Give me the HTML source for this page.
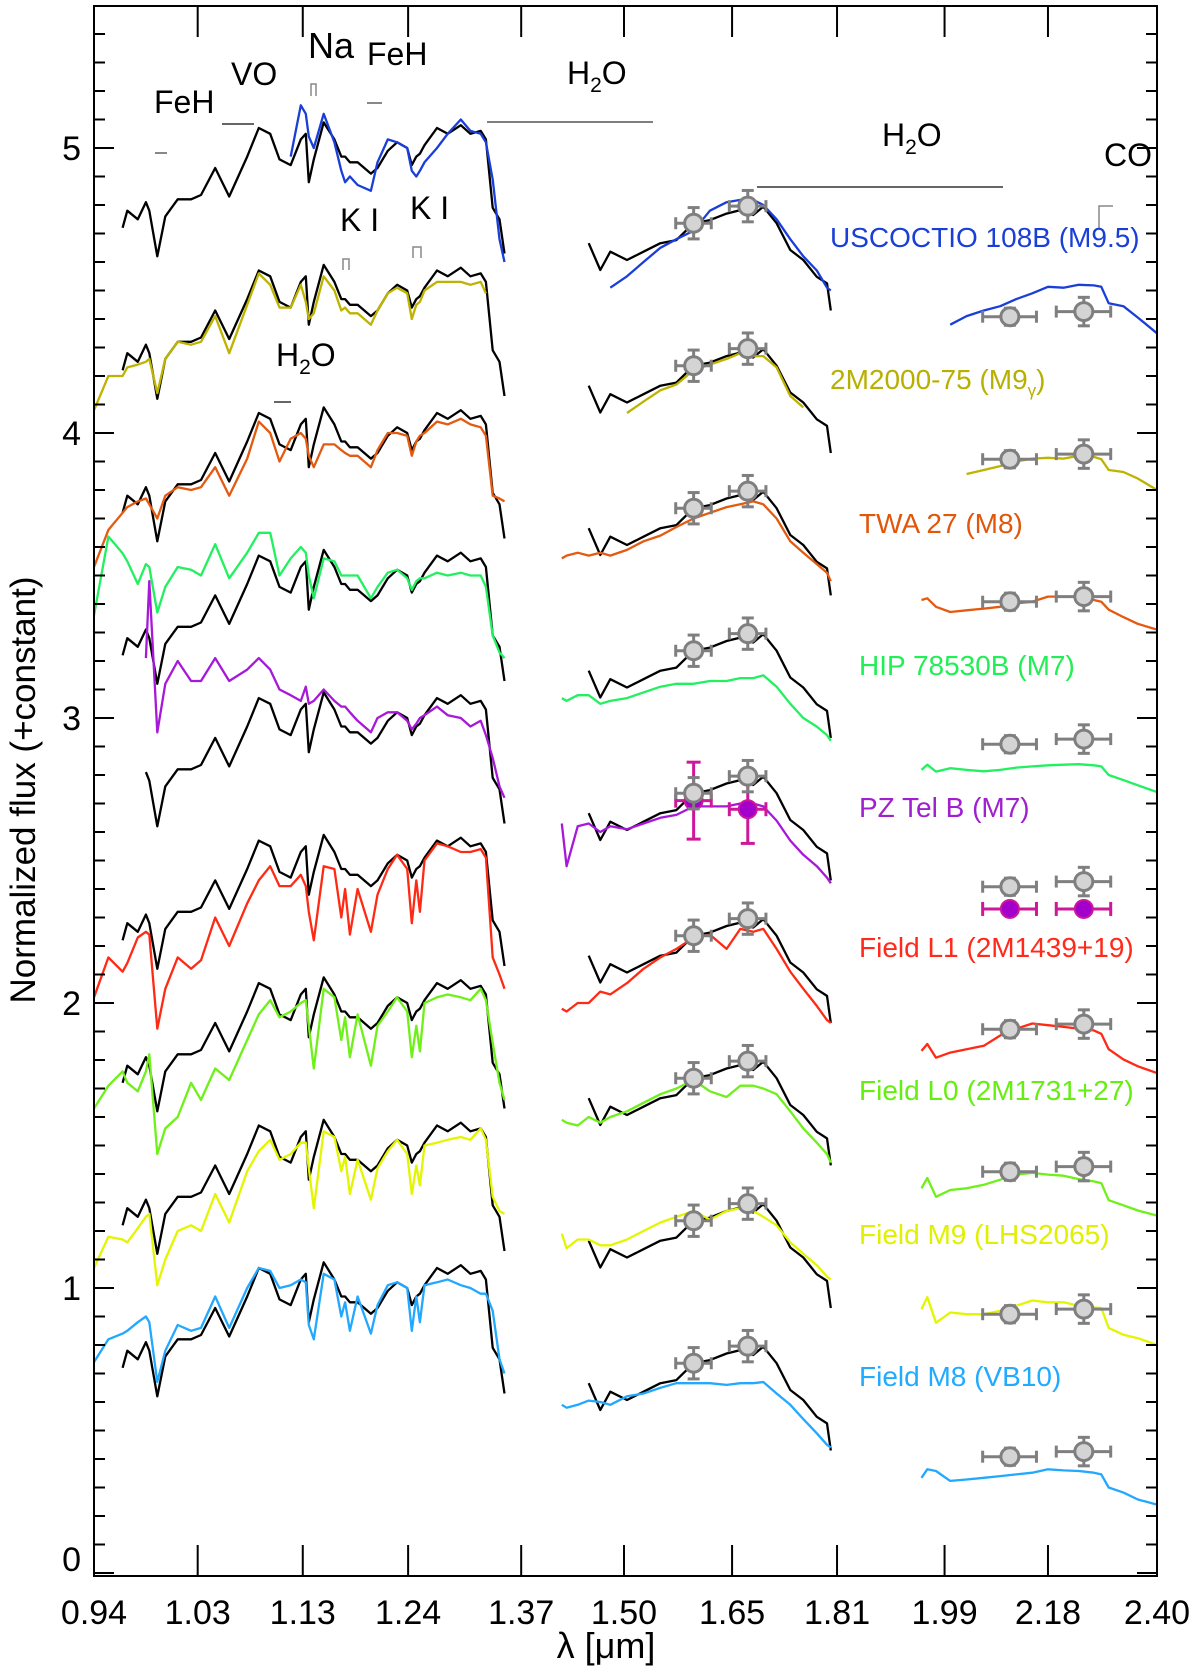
<!DOCTYPE html>
<html>
<head>
<meta charset="utf-8">
<style>
html,body{margin:0;padding:0;background:#fff;}
svg{display:block;font-family:"Liberation Sans",Arial,sans-serif;}
</style>
</head>
<body>
<svg id="chart" width="1200" height="1679" viewBox="0 0 1200 1679" xmlns="http://www.w3.org/2000/svg">
<rect x="0" y="0" width="1200" height="1679" fill="#fff"/>
<g id="series"></g>
<g id="points"></g>
<g id="axes"></g>
<g id="annot" font-size="32" fill="#000">
  <text x="154" y="113">FeH</text>
  <line x1="155" y1="153" x2="167" y2="153" stroke="#888" stroke-width="2"/>
  <text x="231" y="85">VO</text>
  <line x1="222" y1="124" x2="254" y2="124" stroke="#333" stroke-width="1.5"/>
  <text x="308" y="58" font-size="36">Na</text>
  <path d="M311 96 V84 H316 V96" fill="none" stroke="#888" stroke-width="1.5"/>
  <text x="367" y="65">FeH</text>
  <line x1="367" y1="103" x2="382" y2="103" stroke="#888" stroke-width="2"/>
  <text x="567" y="84">H<tspan font-size="21" dy="8">2</tspan><tspan dy="-8">O</tspan></text>
  <line x1="487" y1="122" x2="653" y2="122" stroke="#555" stroke-width="1.5"/>
  <text x="340" y="231">K I</text>
  <path d="M343 270 V259 H349 V270" fill="none" stroke="#888" stroke-width="1.5"/>
  <text x="410" y="219">K I</text>
  <path d="M413 258 V247 H421 V258" fill="none" stroke="#888" stroke-width="1.5"/>
  <text x="276" y="366">H<tspan font-size="21" dy="8">2</tspan><tspan dy="-8">O</tspan></text>
  <line x1="274" y1="402" x2="291" y2="402" stroke="#333" stroke-width="1.5"/>
  <text x="882" y="146">H<tspan font-size="21" dy="8">2</tspan><tspan dy="-8">O</tspan></text>
  <line x1="757" y1="187" x2="1003" y2="187" stroke="#333" stroke-width="1.5"/>
  <text x="1104" y="166">CO</text>
  <path d="M1099 229 V206 H1113" fill="none" stroke="#888" stroke-width="1.5"/>
</g>
<g id="names" font-size="28">
  <text x="830" y="247" fill="#1a3fd8">USCOCTIO 108B (M9.5)</text>
  <text x="830" y="389" fill="#b8b000">2M2000-75 (M9<tspan font-size="17" dy="7">γ</tspan><tspan dy="-7">)</tspan></text>
  <text x="859" y="533" fill="#e0560a">TWA 27 (M8)</text>
  <text x="859" y="675" fill="#22ee55">HIP 78530B (M7)</text>
  <text x="859" y="817" fill="#a020d0">PZ Tel B (M7)</text>
  <text x="859" y="957" fill="#ff2a1a">Field L1 (2M1439+19)</text>
  <text x="859" y="1100" fill="#66ee11">Field L0 (2M1731+27)</text>
  <text x="859" y="1244" fill="#e0f000">Field M9 (LHS2065)</text>
  <text x="859" y="1386" fill="#22aaff">Field M8 (VB10)</text>
</g>
<text x="0" y="0" font-size="35" text-anchor="middle" transform="translate(35,790) rotate(-90)">Normalized flux (+constant)</text>
<text x="606" y="1658" font-size="36" text-anchor="middle">λ [μm]</text>
</svg>
<script>
// ---- data ----
const jWave = [0.940,0.952,0.964,0.968,0.977,0.984,0.987,0.994,1.001,1.012,1.024,1.033,1.046,1.059,1.076,1.087,1.098,1.107,1.118,1.128,1.133,1.136,1.141,1.151,1.162,1.169,1.173,1.178,1.186,1.200,1.207,1.218,1.228,1.239,1.244,1.249,1.253,1.258,1.272,1.284,1.299,1.310,1.322,1.328,1.336,1.344,1.350];
const hWave = [1.420,1.426,1.440,1.454,1.469,1.482,1.504,1.526,1.549,1.571,1.595,1.618,1.642,1.662,1.681,1.696,1.716,1.737,1.757,1.778,1.794,1.800];
const kWave = [1.950,1.960,1.975,2.000,2.029,2.060,2.090,2.120,2.150,2.180,2.210,2.240,2.270,2.285,2.300,2.330,2.360,2.400];

const panelOffsets = [5.0,4.5,4.0,3.5,3.0,2.5,2.0,1.5,1.0];
const blackJStart = [2,2,2,2,5,2,2,2,2];

const blackJ = [null,null,-0.28,-0.22,-0.25,-0.19,-0.22,-0.38,-0.24,-0.18,-0.18,-0.165,-0.07,-0.17,-0.03,0.07,0.05,-0.04,-0.06,0.03,0.05,-0.12,-0.04,0.09,0.03,-0.03,-0.03,-0.05,-0.05,-0.09,-0.07,-0.01,0.02,0.0,-0.06,-0.03,-0.02,0.01,0.07,0.05,0.08,0.05,0.06,0.03,-0.21,-0.25,-0.37];
const blackH = [null,null,null,-0.334,-0.428,-0.364,-0.393,-0.364,-0.334,-0.323,-0.264,-0.253,-0.23,-0.218,-0.235,-0.206,-0.264,-0.358,-0.393,-0.452,-0.475,-0.57];

const uscoJ = [null,null,null,null,null,null,null,null,null,null,null,null,null,null,null,null,null,null,-0.03,0.15,0.12,0.04,0.0,0.12,0.02,-0.08,-0.12,-0.10,-0.13,-0.15,-0.05,0.03,0.02,0.0,-0.08,-0.10,-0.08,-0.05,0.0,0.05,0.10,0.06,0.05,0.02,-0.11,-0.32,-0.40];
const uscoH = [null,null,null,null,null,-0.49,-0.45,-0.40,-0.35,-0.32,-0.29,-0.22,-0.19,-0.182,-0.182,-0.20,-0.25,-0.32,-0.38,-0.43,-0.49,-0.50];
const uscoK = [null,null,null,-0.62,-0.59,-0.57,-0.555,-0.53,-0.51,-0.487,-0.49,-0.48,-0.482,-0.487,-0.545,-0.555,-0.595,-0.65];

const m2000J = [-0.42,-0.30,-0.30,-0.27,-0.26,-0.25,-0.24,-0.36,-0.24,-0.18,-0.19,-0.18,-0.09,-0.22,-0.05,0.06,0.02,-0.06,-0.06,0.02,-0.04,-0.10,-0.08,0.05,0.0,-0.07,-0.06,-0.08,-0.08,-0.12,-0.07,-0.01,0.01,-0.01,-0.10,-0.05,-0.04,0.0,0.03,0.03,0.03,0.02,0.03,-0.01,null,null,null];
const m2000H = [null,null,null,null,null,null,-0.43,-0.39,-0.35,-0.33,-0.28,-0.26,-0.24,-0.22,-0.23,-0.23,-0.27,-0.37,-0.41,null,null,null];
const m2000K = [null,null,null,null,-0.644,-0.63,-0.616,-0.60,-0.59,-0.587,-0.59,-0.58,-0.584,-0.592,-0.63,-0.637,-0.66,-0.70];

const twaJ = [-0.47,-0.34,-0.28,-0.26,-0.24,-0.23,-0.25,-0.30,-0.22,-0.19,-0.20,-0.19,-0.12,-0.22,-0.09,0.04,0.0,-0.10,-0.02,0.0,-0.02,-0.08,-0.12,-0.04,-0.04,-0.06,-0.07,-0.08,-0.08,-0.12,-0.06,0.0,0.0,-0.01,-0.08,-0.03,-0.01,0.0,0.04,0.03,0.05,0.03,0.02,-0.01,-0.22,-0.23,-0.24];
const twaH = [-0.44,-0.43,-0.42,-0.43,-0.42,-0.43,-0.41,-0.38,-0.36,-0.33,-0.30,-0.28,-0.26,-0.25,-0.24,-0.25,-0.30,-0.38,-0.42,-0.46,-0.49,-0.52];
const twaK = [-0.586,-0.58,-0.61,-0.628,-0.622,-0.616,-0.61,-0.598,-0.592,-0.574,-0.574,-0.574,-0.586,-0.592,-0.62,-0.646,-0.67,-0.69];

const hipJ = [-0.14,0.137,0.078,0.05,-0.03,0.04,0.03,-0.13,-0.04,0.03,0.02,0.0,0.11,-0.01,0.08,0.15,0.15,0.0,0.06,0.10,0.08,0.0,-0.08,0.06,0.05,0.0,0.0,0.0,0.0,-0.08,-0.04,0.01,0.02,-0.01,-0.05,-0.02,-0.01,-0.01,0.01,0.0,0.01,0.0,0.0,-0.04,-0.21,-0.27,-0.29];
const hipH = [-0.43,-0.44,-0.42,-0.42,-0.45,-0.44,-0.43,-0.41,-0.39,-0.38,-0.38,-0.37,-0.37,-0.36,-0.36,-0.35,-0.39,-0.45,-0.50,-0.53,-0.56,-0.58];
const hipK = [-0.682,-0.664,-0.688,-0.676,-0.682,-0.687,-0.682,-0.674,-0.67,-0.666,-0.664,-0.662,-0.666,-0.67,-0.70,-0.718,-0.736,-0.76];

const pzJ = [null,null,null,null,null,0.21,0.48,-0.05,0.12,0.20,0.13,0.13,0.21,0.13,0.17,0.21,0.17,0.10,0.08,0.06,0.11,0.05,0.06,0.10,0.06,0.04,0.04,0.02,-0.01,-0.05,0.0,0.02,0.02,-0.01,-0.04,-0.02,0.0,0.01,0.04,0.01,0.0,-0.03,-0.01,-0.06,-0.14,-0.24,-0.28];
const pzH = [-0.37,-0.52,-0.38,-0.37,-0.40,-0.38,-0.39,-0.37,-0.35,-0.34,-0.31,-0.31,-0.31,-0.30,-0.30,-0.31,-0.36,-0.43,-0.48,-0.52,-0.56,-0.58];

const l1J = [-0.48,-0.34,-0.39,-0.36,-0.27,-0.25,-0.26,-0.59,-0.45,-0.34,-0.38,-0.35,-0.20,-0.30,-0.15,-0.07,-0.02,-0.09,-0.09,-0.05,-0.09,-0.18,-0.28,-0.02,-0.03,-0.20,-0.10,-0.26,-0.10,-0.25,-0.12,-0.03,0.02,-0.03,-0.22,-0.07,-0.18,0.0,0.06,0.05,0.03,0.03,0.04,0.01,-0.34,-0.40,-0.45];
const l1H = [-0.52,-0.53,-0.50,-0.50,-0.46,-0.47,-0.43,-0.38,-0.34,-0.31,-0.27,-0.26,-0.31,-0.24,-0.25,-0.24,-0.31,-0.39,-0.45,-0.51,-0.56,-0.57];
const l1K = [-0.668,-0.644,-0.692,-0.674,-0.662,-0.65,-0.614,-0.59,-0.572,-0.578,-0.584,-0.59,-0.596,-0.608,-0.662,-0.698,-0.722,-0.746];

const l0J = [-0.37,-0.29,-0.24,-0.28,-0.31,-0.24,-0.18,-0.53,-0.44,-0.40,-0.28,-0.34,-0.23,-0.27,-0.13,-0.04,0.01,-0.05,-0.03,0.0,0.01,-0.08,-0.23,0.05,0.02,-0.13,-0.05,-0.19,-0.04,-0.22,-0.08,-0.03,0.02,-0.03,-0.19,-0.08,-0.17,0.0,0.02,0.03,0.02,0.01,0.05,0.01,-0.14,-0.28,-0.34];
const l0H = [-0.41,-0.42,-0.43,-0.40,-0.42,-0.40,-0.38,-0.35,-0.32,-0.30,-0.27,-0.31,-0.33,-0.29,-0.29,-0.30,-0.32,-0.38,-0.44,-0.49,-0.53,-0.56];
const l0K = [-0.65,-0.614,-0.68,-0.656,-0.65,-0.638,-0.62,-0.602,-0.596,-0.602,-0.606,-0.618,-0.626,-0.632,-0.692,-0.71,-0.728,-0.746];

const m9J = [-0.43,-0.32,-0.33,-0.34,-0.29,-0.25,-0.24,-0.49,-0.40,-0.30,-0.28,-0.30,-0.17,-0.27,-0.09,-0.02,0.02,-0.05,-0.03,0.01,0.01,-0.08,-0.22,0.05,0.03,-0.09,-0.04,-0.17,-0.05,-0.19,-0.08,-0.02,0.02,-0.03,-0.17,-0.07,-0.14,0.0,0.01,0.02,0.03,0.02,0.06,0.02,-0.18,-0.23,-0.24];
const m9H = [-0.31,-0.36,-0.33,-0.33,-0.35,-0.35,-0.33,-0.30,-0.27,-0.25,-0.23,-0.26,-0.23,-0.22,-0.23,-0.25,-0.28,-0.34,-0.38,-0.42,-0.46,-0.47];
const m9K = [-0.574,-0.532,-0.622,-0.586,-0.592,-0.592,-0.58,-0.562,-0.544,-0.55,-0.55,-0.562,-0.568,-0.57,-0.64,-0.664,-0.676,-0.70];

const vb10J = [-0.26,-0.18,-0.16,-0.15,-0.12,-0.10,-0.12,-0.33,-0.22,-0.13,-0.15,-0.14,-0.03,-0.14,0.0,0.07,0.06,0.0,0.01,0.03,0.02,-0.13,-0.18,0.05,0.03,-0.10,-0.05,-0.15,-0.03,-0.16,-0.06,0.01,0.02,0.0,-0.15,-0.03,-0.12,0.01,0.02,0.03,0.01,0.0,-0.02,-0.02,-0.08,-0.25,-0.30];
const vb10H = [-0.41,-0.42,-0.41,-0.395,-0.40,-0.41,-0.38,-0.37,-0.35,-0.334,-0.334,-0.334,-0.34,-0.334,-0.334,-0.33,-0.37,-0.41,-0.46,-0.51,-0.55,-0.56];
const vb10K = [-0.666,-0.636,-0.642,-0.677,-0.672,-0.666,-0.66,-0.654,-0.648,-0.636,-0.64,-0.642,-0.648,-0.654,-0.70,-0.718,-0.742,-0.76];

const photWave = [1.595,1.673,2.108,2.250];
const photRel = [-0.264,-0.204,-0.592,-0.574];
const photYErr = [0.055,0.055,0.03,0.05];
const photXErr = [0.025,0.027,0.050,0.054];
const pzPhotRel = [-0.29,-0.32,-0.67,-0.67];
const pzPhotYErr = [0.135,0.12,0.0,0.0];

const xTickLabels = ["0.94","1.03","1.13","1.24","1.37","1.50","1.65","1.81","1.99","2.18","2.40"];
const yTickLabels = ["0","1","2","3","4","5"];

// ---- scales ----
const X0 = 94, X1 = 1157, YT = 6, YB = 1576;
const LMIN = 0.94, LMAX = 2.40;
function xs(l){ return X0 + Math.log(l/LMIN)/Math.log(LMAX/LMIN)*(X1-X0); }
function ys(v){ return 1573 - v*285; }

const NS = "http://www.w3.org/2000/svg";
const gS = document.getElementById('series');
const gP = document.getElementById('points');
const gA = document.getElementById('axes');

function mk(tag, attrs, parent){
  const e = document.createElementNS(NS, tag);
  for (const k in attrs) e.setAttribute(k, attrs[k]);
  parent.appendChild(e);
  return e;
}

function drawLine(wave, vals, offset, color, name, startIdx){
  let d = '', pen = false;
  for (let i = (startIdx||0); i < wave.length; i++){
    const v = vals[i];
    if (v === null || v === undefined){ pen = false; continue; }
    d += (pen ? 'L' : 'M') + xs(wave[i]).toFixed(1) + ' ' + ys(offset+v).toFixed(1);
    pen = true;
  }
  const p = mk('path', {d: d, fill: 'none', stroke: color, 'stroke-width': 2.3, 'stroke-linejoin': 'round'}, gS);
  
  
}

const panels = [
  {name:'uscoctio', color:'#1a3fd8', J:uscoJ, H:uscoH, K:uscoK},
  {name:'2m2000', color:'#bdb300', J:m2000J, H:m2000H, K:m2000K},
  {name:'twa27', color:'#e35a10', J:twaJ, H:twaH, K:twaK},
  {name:'hip78530b', color:'#22f060', J:hipJ, H:hipH, K:hipK},
  {name:'pztelb', color:'#a818d8', J:pzJ, H:pzH, K:null},
  {name:'field-l1', color:'#ff2a14', J:l1J, H:l1H, K:l1K},
  {name:'field-l0', color:'#6ef018', J:l0J, H:l0H, K:l0K},
  {name:'field-m9', color:'#e4f500', J:m9J, H:m9H, K:m9K},
  {name:'field-m8', color:'#22a8ff', J:vb10J, H:vb10H, K:vb10K}
];

panels.forEach((p, i) => {
  const off = panelOffsets[i];
  drawLine(jWave, blackJ, off, '#000', 'uscoctio-j-spectrum-' + (i+1), blackJStart[i]);
  drawLine(hWave, blackH, off, '#000', 'uscoctio-h-spectrum-' + (i+1), 0);
  drawLine(jWave, p.J, off, p.color, p.name + '-j-spectrum', 0);
  drawLine(hWave, p.H, off, p.color, p.name + '-h-spectrum', 0);
  if (p.K) drawLine(kWave, p.K, off, p.color, p.name + '-k-spectrum', 0);
});

function errBar(cx, cy, x0, x1, y0, y1, color, cap, parent){
  mk('line', {x1:x0, y1:cy, x2:x1, y2:cy, stroke:color, 'stroke-width':3}, parent);
  mk('line', {x1:x0, y1:cy-cap, x2:x0, y2:cy+cap, stroke:color, 'stroke-width':3}, parent);
  mk('line', {x1:x1, y1:cy-cap, x2:x1, y2:cy+cap, stroke:color, 'stroke-width':3}, parent);
  if (y1 - y0 > 1){
    mk('line', {x1:cx, y1:y0, x2:cx, y2:y1, stroke:color, 'stroke-width':3}, parent);
    mk('line', {x1:cx-cap, y1:y0, x2:cx+cap, y2:y0, stroke:color, 'stroke-width':3}, parent);
    mk('line', {x1:cx-cap, y1:y1, x2:cx+cap, y2:y1, stroke:color, 'stroke-width':3}, parent);
  }
}

panels.forEach((p, i) => {
  const off = panelOffsets[i];
  if (i === 4){
    for (let k = 0; k < photWave.length; k++){
      const g = mk('g', {}, gP);
      
      
      const cx = xs(photWave[k]), cy = ys(off + pzPhotRel[k]);
      errBar(cx, cy, xs(photWave[k]-photXErr[k]), xs(photWave[k]+photXErr[k]), ys(off+pzPhotRel[k]+pzPhotYErr[k]), ys(off+pzPhotRel[k]-pzPhotYErr[k]), '#cc1899', 7, g);
      mk('circle', {cx:cx, cy:cy, r:9, fill:'#a400cc', stroke:'#cc1899', 'stroke-width':2}, g);
    }
  }
  for (let k = 0; k < photWave.length; k++){
    const g = mk('g', {}, gP);
    
    
    const cx = xs(photWave[k]), cy = ys(off + photRel[k]);
    errBar(cx, cy, xs(photWave[k]-photXErr[k]), xs(photWave[k]+photXErr[k]), ys(off+photRel[k]+photYErr[k]), ys(off+photRel[k]-photYErr[k]), '#7f7f7f', 6, g);
    mk('circle', {cx:cx, cy:cy, r:9, fill:'#d4d4d4', stroke:'#7f7f7f', 'stroke-width':3}, g);
  }
});

const fr = mk('rect', {x:X0, y:YT, width:X1-X0, height:YB-YT, fill:'none', stroke:'#000', 'stroke-width':2}, gA);



for (let t = 0; t <= 54; t++){
  const v = t/10, y = ys(v);
  if (y < YT+1) continue;
  const len = (t % 10 === 0) ? 20 : 11;
  mk('line', {x1:X0, y1:y, x2:X0+len, y2:y, stroke:'#000', 'stroke-width':2}, gA);
  mk('line', {x1:X1, y1:y, x2:X1-len, y2:y, stroke:'#000', 'stroke-width':2}, gA);
}
yTickLabels.forEach((lab, i) => {
  const v = parseFloat(lab);
  let y = ys(v) + 12;
  if (v === 0) y -= 14;
  const t = mk('text', {x:81, y:y, 'font-size':34, 'text-anchor':'end'}, gA);
  t.textContent = lab;
  
  
});

xTickLabels.forEach((lab, i) => {
  const x = xs(parseFloat(lab));
  const xx = (i === 0) ? X0 : (i === xTickLabels.length-1 ? X1 : x);
  mk('line', {x1:xx, y1:YB, x2:xx, y2:YB-31, stroke:'#000', 'stroke-width':2}, gA);
  mk('line', {x1:xx, y1:YT, x2:xx, y2:YT+31, stroke:'#000', 'stroke-width':2}, gA);
  const t = mk('text', {x:xx, y:1624, 'font-size':34, 'text-anchor':'middle'}, gA);
  t.textContent = lab;
  
  
});
</script>
</body>
</html>
